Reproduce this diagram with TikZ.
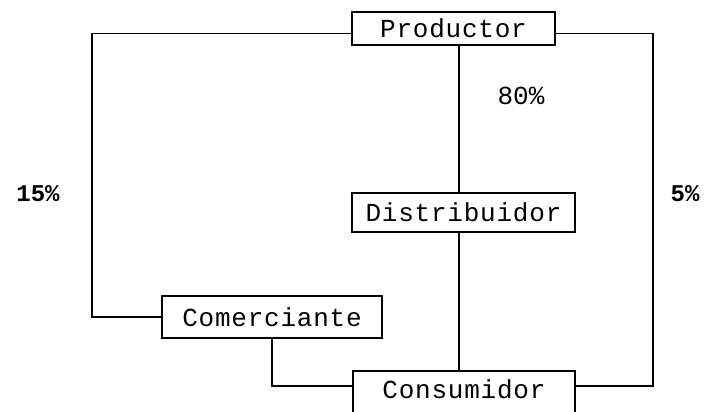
\documentclass[tikz,border=0pt]{standalone}
\usepackage{fontspec}
\usetikzlibrary{calc}
\newfontfamily\boxfont[LetterSpace=3]{Liberation Mono}
\newfontfamily\pctfont{Liberation Mono}
\begin{document}
\begin{tikzpicture}[x=1pt,y=-1pt,line width=1.6pt,
  box/.style={draw,inner sep=0pt,font=\boxfont\fontsize{26}{30}\selectfont},
  pct/.style={inner sep=0pt,font=\pctfont\fontsize{24}{28}\selectfont}]
\useasboundingbox (0,0) rectangle (712,412);
\node[box,minimum width=203pt,minimum height=33pt] (prod) at (453.5,28.5) {Productor};
\node[box,minimum width=223pt,minimum height=39pt] (dis) at (463.5,212.5) {Distribuidor};
\node[box,minimum width=220pt,minimum height=42pt] (com) at (272,317) {Comerciante};
\node[box,minimum width=222pt,anchor=north,text height=20pt,text depth=28pt,inner ysep=8pt] (con) at (464,370) {Consumidor};
\node[pct,font=\pctfont\bfseries\fontsize{24}{28}\selectfont] (p15) at (38,194) {15\%};
\node[pct,font=\pctfont\bfseries\fontsize{24}{28}\selectfont] (p5) at (685,194) {5\%};
\node[pct,font=\pctfont\fontsize{26}{30}\selectfont] (p80) at (521,96) {80\%};
\coordinate (l) at (92,200);
\coordinate (r) at (653,200);
\coordinate (m) at (459,0);
\coordinate (prodw) at ($(prod.west)+(0,5)$);
\coordinate (prode) at ($(prod.east)+(0,5)$);
\coordinate (conw) at ($(con.north west)+(0,16)$);
\coordinate (cone) at ($(con.north east)+(0,16)$);
\draw (prodw) -| (l) |- (com.west);
\draw (prode) -| (r) |- (cone);
\draw (prod.south -| m) -- (dis.north -| m);
\draw (dis.south -| m) -- (con.north -| m);
\draw (com.south) |- (conw);
\end{tikzpicture}
\end{document}
